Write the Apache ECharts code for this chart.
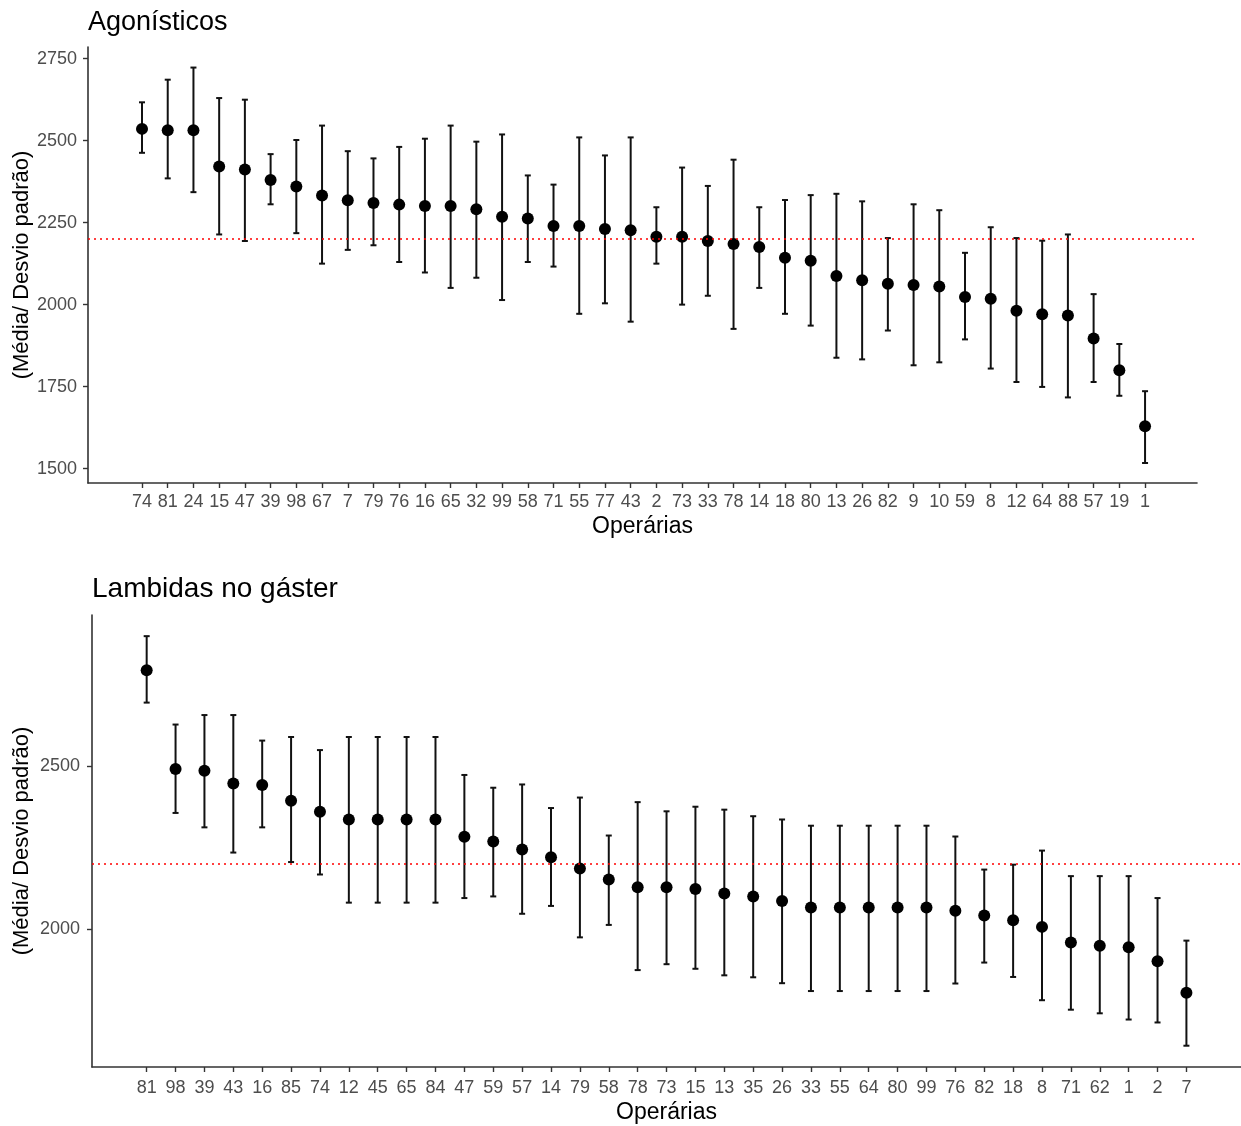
<!DOCTYPE html>
<html>
<head>
<meta charset="utf-8">
<script src="https://cdn.jsdelivr.net/npm/echarts@6/dist/echarts.min.js"></script>
<style>
html,body{margin:0;padding:0;background:#fff;}
#c{width:1241px;height:1126px;}
</style>
</head>
<body>
<div id="c"></div>
<script>
// ---- Panel A: Agonísticos ----
const catsA = ['74','81','24','15','47','39','98','67','7','79','76','16','65','32','99','58','71','55','77','43','2','73','33','78','14','18','80','13','26','82','9','10','59','8','12','64','88','57','19','1'];
const meanA = [2536,2532,2532,2421,2412,2380,2360,2333,2318,2310,2305,2301,2301,2291,2268,2263,2240,2240,2231,2227,2207,2207,2194,2185,2176,2143,2134,2087,2074,2064,2060,2055,2023,2018,1981,1971,1967,1897,1800,1629];
const lowA  = [2463,2385,2343,2214,2194,2306,2218,2125,2167,2181,2130,2098,2051,2082,2014,2130,2116,1972,2004,1948,2125,2000,2027,1926,2051,1972,1936,1838,1833,1921,1815,1824,1894,1805,1764,1749,1717,1764,1722,1517];
const highA = [2617,2686,2723,2630,2625,2459,2502,2546,2468,2446,2481,2506,2546,2497,2519,2394,2366,2510,2455,2510,2297,2418,2362,2442,2297,2319,2334,2338,2315,2203,2306,2288,2158,2236,2203,2195,2214,2032,1880,1736];
const yTicksA = [1500,1750,2000,2250,2500,2750];

// ---- Panel B: Lambidas no gáster ----
const catsB = ['81','98','39','43','16','85','74','12','45','65','84','47','59','57','14','79','58','78','73','15','13','35','26','33','55','64','80','99','76','82','18','8','71','62','1','2','7'];
const meanB = [2792,2490,2485,2446,2441,2393,2360,2336,2336,2336,2336,2283,2269,2244,2221,2186,2153,2129,2129,2124,2110,2101,2087,2067,2067,2067,2067,2067,2057,2043,2028,2008,1960,1950,1946,1903,1807];
const lowB  = [2693,2356,2312,2235,2312,2206,2168,2082,2082,2082,2082,2096,2101,2048,2072,1976,2014,1876,1894,1880,1860,1854,1836,1812,1812,1812,1812,1812,1835,1899,1855,1784,1755,1744,1725,1716,1645];
const highB = [2896,2626,2655,2655,2577,2588,2548,2588,2588,2588,2588,2472,2433,2443,2371,2403,2287,2389,2361,2375,2366,2346,2336,2317,2317,2317,2317,2317,2284,2183,2198,2241,2163,2163,2163,2096,1966];
const yTicksB = [2000,2500];

const refLine = 2200;
const titles = ['Agonísticos','Lambidas no gáster'];
const xName = 'Operárias';
const yName = '(Média/ Desvio padrão)';

const FONT = '"Liberation Sans", Arial, sans-serif';
const axisCol = '#333333';
const labCol = '#4d4d4d';

function xAxisFor(gi, cats, min, max, margin, nameGap){
  const idx = cats.map((_, i) => i);
  return {
    type:'value', gridIndex: gi, min: min, max: max,
    splitLine:{show:false},
    axisLine:{show:true, onZero:false, lineStyle:{color:axisCol, width:1.6}},
    axisTick:{show:true, length:5, customValues: idx, lineStyle:{color:axisCol, width:1.4}},
    axisLabel:{customValues: idx, formatter: v => cats[Math.round(v)] ?? '', color:labCol, fontSize:18, fontFamily:FONT, margin: margin, hideOverlap:false},
    name: xName, nameLocation:'middle', nameGap: nameGap,
    nameTextStyle:{color:'#000', fontSize:23, fontFamily:FONT}
  };
}
function yAxisFor(gi, ticks, min, max, margin, nameGap){
  return {
    type:'value', gridIndex: gi, min: min, max: max,
    splitLine:{show:false},
    axisLine:{show:true, onZero:false, lineStyle:{color:axisCol, width:1.6}},
    axisTick:{show:true, length:5, customValues: ticks, lineStyle:{color:axisCol, width:1.4}},
    axisLabel:{customValues: ticks, formatter: v => String(v), color:labCol, fontSize:18, fontFamily:FONT, margin: margin},
    name: yName, nameLocation:'middle', nameGap: nameGap, nameRotate: 90, nameMoveOverlap: false,
    nameTextStyle:{color:'#000', fontSize:22, fontFamily:FONT}
  };
}
function errSeries(gi, cats, low, high){
  return {
    type:'custom', xAxisIndex: gi, yAxisIndex: gi, silent:true, z:2,
    data: cats.map((_, i) => [i, low[i], high[i]]),
    encode:{x:0, y:[1,2]},
    renderItem: (params, api) => {
      const x = api.value(0);
      const a = api.coord([x, api.value(1)]);
      const b = api.coord([x, api.value(2)]);
      const hw = 3;
      const st = {stroke:'#111', lineWidth:2};
      return {type:'group', children:[
        {type:'line', shape:{x1:a[0], y1:a[1], x2:b[0], y2:b[1]}, style:st},
        {type:'line', shape:{x1:a[0]-hw, y1:a[1], x2:a[0]+hw, y2:a[1]}, style:st},
        {type:'line', shape:{x1:b[0]-hw, y1:b[1], x2:b[0]+hw, y2:b[1]}, style:st}
      ]};
    }
  };
}
function pointSeries(gi, cats, mean){
  return {
    type:'scatter', xAxisIndex: gi, yAxisIndex: gi, z:3,
    data: cats.map((_, i) => [i, mean[i]]),
    symbol:'circle', symbolSize:12, itemStyle:{color:'#000', opacity:1},
    markLine:{silent:true, symbol:'none', animation:false, label:{show:false},
      lineStyle:{color:'#ff0000', type:[2,4], width:1.6, opacity:1},
      data:[{yAxis: refLine}]}
  };
}

const chart = echarts.init(document.getElementById('c'), null, {renderer:'canvas'});
chart.setOption({
  animation:false,
  backgroundColor:'#fff',
  title:[
    {text:titles[0], left:88, top:9, padding:0, textStyle:{color:'#000', fontSize:27, fontWeight:'normal', fontFamily:FONT}},
    {text:titles[1], left:92, top:575, padding:0, textStyle:{color:'#000', fontSize:28, fontWeight:'normal', fontFamily:FONT}}
  ],
  grid:[
    {left:88, top:47, width:1109, height:436, containLabel:false, outerBoundsMode:'none'},
    {left:92, top:615, width:1149, height:452, containLabel:false, outerBoundsMode:'none'}
  ],
  xAxis:[
    xAxisFor(0, catsA, -2.1, 41.02, 10, 32),
    xAxisFor(1, catsB, -1.893, 37.89, 12, 34)
  ],
  yAxis:[
    yAxisFor(0, yTicksA, 1456, 2785.7, 11, 55),
    yAxisFor(1, yTicksB, 1580, 2960.6, 12, 59)
  ],
  series:[
    errSeries(0, catsA, lowA, highA),
    pointSeries(0, catsA, meanA),
    errSeries(1, catsB, lowB, highB),
    pointSeries(1, catsB, meanB)
  ]
});
</script>
</body>
</html>
